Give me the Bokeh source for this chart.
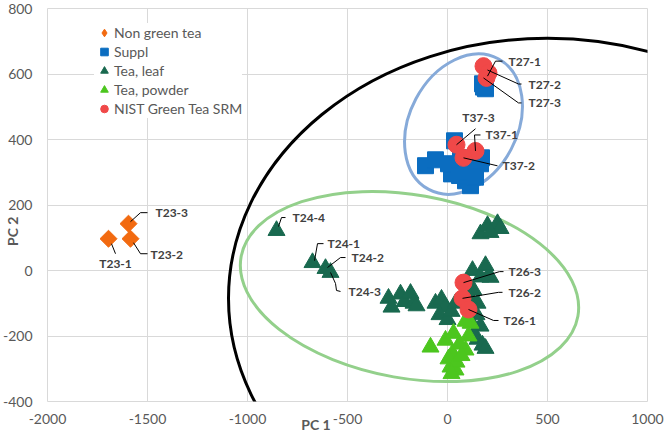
import numpy as np
from bokeh.plotting import figure
from bokeh.models import (ColumnDataSource, FixedTicker, Legend, LegendItem, Range1d)
from bokeh.core.properties import value
from bokeh.embed import file_html
from bokeh.resources import INLINE

# ---------------- data ----------------
nongreen_x = [-1695, -1585, -1595]
nongreen_y = [97, 97, 143]
nongreen_names = ["T23-1", "T23-2", "T23-3"]

suppl_x = [175, 190, 180, -110, -60, 35, 40, 90, 115, 165, 170, 115, 20, 65, 130, 5, 60, 100, 140]
suppl_y = [570, 555, 560, 320, 338, 396, 310, 274, 259, 326, 344, 335, 295, 344, 304, 326, 290, 300, 285]

leaf_x = [-855, -675, -610, -585,
          -295, -280, -235, -215, -185, -170, -155,
          -60, -30, -10, -40, 0, 20, 40,
          125, 165, 215, 205, 190,
          100, 130, 110, 150, 145, 165, 150, 175, 130, 120, 190,
          165, 200, 250, 265, 215]
leaf_y = [122, 24, 6, -6,
          -85, -112, -72, -95, -70, -100, -108,
          -100, -88, -112, -135, -150, -125, -100,
          0, -20, -21, -15, 15,
          -40, -60, -80, -100, -135, -170, -210, -228, -195, -160, -238,
          112, 137, 143, 128, 116]
leaf_names = ["T24-4", "T24-1", "T24-2", "T24-3"]

powder_x = [-85, -10, 30, 25, 90, 15, 40, 115, 90, 60, 5, 45, 70, 20, 105]
powder_y = [-234, -213, -192, -253, -243, -295, -304, -161, -155, -225, -270, -280, -260, -315, -200]

nist_x = [180, 205, 195, 45, 140, 80, 80, 75, 105]
nist_y = [624, 603, 588, 384, 365, 344, -37, -85, -119]
nist_names = ["T27-1", "T27-2", "T27-3", "T37-3", "T37-1", "T37-2", "T26-3", "T26-2", "T26-1"]

series_names = ["Non green tea", "Suppl", "Tea, leaf", "Tea, powder", "NIST Green Tea SRM"]
x_ticks = [-2000, -1500, -1000, -500, 0, 500, 1000]
y_ticks = [-400, -200, 0, 200, 400, 600, 800]
x_title = "PC 1"
y_title = "PC 2"

# ---------------- layout / styles ----------------
FW, FH = 600, 393
XR, YR = (-2000, 1000), (-400, 800)
SX = (XR[1] - XR[0]) / FW   # data per px
SY = (YR[1] - YR[0]) / FH

FONT = "Lato"
GRID = "#d9d9d9"
TXT = "#595959"
C_ORANGE = "#F26A10"
C_BLUE = "#0B6DC0"
C_DGREEN = "#19694F"
C_LGREEN = "#4CC61E"
C_RED = "#F04848"
EM = "\u2003"

p = figure(frame_width=FW, frame_height=FH,
           x_range=Range1d(*XR), y_range=Range1d(*YR),
           output_backend="svg", toolbar_location=None,
           min_border_left=47, min_border_right=17, min_border_top=8, min_border_bottom=33)
p.outline_line_color = GRID
p.background_fill_color = "white"
p.border_fill_color = "white"

p.xaxis.ticker = FixedTicker(ticks=x_ticks)
p.yaxis.ticker = FixedTicker(ticks=y_ticks)
p.xaxis.major_label_overrides = {t: str(t) for t in x_ticks}
p.yaxis.major_label_overrides = {t: str(t) for t in y_ticks}
for ax in (p.xaxis, p.yaxis):
    ax.axis_line_color = None
    ax.major_tick_line_color = None
    ax.minor_tick_line_color = None
    ax.major_label_text_font = FONT
    ax.major_label_text_font_size = "14px"
    ax.major_label_text_color = TXT
    ax.axis_label_text_font = FONT
    ax.axis_label_text_font_style = "bold"
    ax.axis_label_text_font_size = "14px"
    ax.axis_label_text_color = TXT
p.xaxis.major_label_standoff = 6
p.yaxis.major_label_standoff = 9
# axis titles placed off-centre as in the reference (padding with em spaces)
p.xaxis.axis_label = x_title + EM * 6
p.xaxis.axis_label_standoff = -11
p.yaxis.axis_label = y_title + EM * 5
p.yaxis.axis_label_standoff = -21
p.xgrid.grid_line_color = GRID
p.ygrid.grid_line_color = GRID

# ellipses (drawn as shapes, screen-rotated)
p.ellipse(x=[500], y=[-85], width=[3190], height=[1588], angle=0,
          fill_alpha=0, line_color="black", line_width=3)
p.ellipse(x=[-190], y=[-49], width=[1710], height=[560], angle=np.deg2rad(-10),
          fill_alpha=0, line_color="#93D08B", line_width=3)
p.ellipse(x=[80], y=[447], width=[740], height=[329], angle=np.deg2rad(62),
          fill_alpha=0, line_color="#86AAD9", line_width=3)

r1 = p.scatter(nongreen_x, nongreen_y, marker="square", size=12, angle=np.pi / 4,
               fill_color=C_ORANGE, line_color=C_ORANGE)
r2 = p.scatter(suppl_x, suppl_y, marker="square", size=16,
               fill_color=C_BLUE, line_color=C_BLUE)
r3 = p.scatter(leaf_x, leaf_y, marker="triangle", size=17,
               fill_color=C_DGREEN, line_color=C_DGREEN)
r4 = p.scatter(powder_x, powder_y, marker="triangle", size=17,
               fill_color=C_LGREEN, line_color=C_LGREEN)
r5 = p.scatter(nist_x, nist_y, marker="circle", size=17,
               fill_color=C_RED, line_color=C_RED)
# legend swatch for the diamond series (a point that is never drawn on the plot)
r1_leg = p.scatter(x=[np.nan], y=[np.nan], marker="diamond", size=12,
                   fill_color=C_ORANGE, line_color=C_ORANGE)

# data labels with leader lines: offsets in screen px (y down)
leaders = {
    "T23-1": ([(3, 5), (7, 15)], (7, 25), "center"),
    "T23-2": ([(3, 4), (10, 15), (17, 15)], (20, 16), "left"),
    "T23-3": ([(2, -2), (12, -11), (19, -11)], (27, -11), "left"),
    "T24-4": ([(2, -4), (5, -13), (9, -13)], (16, -13), "left"),
    "T24-1": ([(2, -2), (5, -19), (11, -19)], (15, -19), "left"),
    "T24-2": ([(2, -1), (15, -11), (20, -11)], (26, -11), "left"),
    "T24-3": ([(0, 0), (5, 11), (6, 18), (10, 19)], (18, 19), "left"),
    "T26-3": ([(0, 0), (36, -11), (40, -11)], (45, -11), "left"),
    "T26-2": ([(0, 0), (36, -6), (40, -6)], (46, -6), "left"),
    "T26-1": ([(0, 0), (25, 11), (30, 11)], (35, 11), "left"),
    "T27-1": ([(4, 10), (12, -5), (19, -5)], (25, -5), "left"),
    "T27-2": ([(-1, -3), (30, 11), (33, 11)], (40, 11), "left"),
    "T27-3": ([(-3, 0), (32, 25), (35, 25)], (42, 25), "left"),
    "T37-3": ([(0, 0), (19, -16)], (22, -27), "center"),
    "T37-1": ([(0, 0), (-1, -16), (5, -16)], (10, -16), "left"),
    "T37-2": ([(0, 0), (34, 8)], (39, 8), "left"),
}

named = {}
for xs, ys, names in ((nongreen_x, nongreen_y, nongreen_names),
                      (leaf_x, leaf_y, leaf_names),
                      (nist_x, nist_y, nist_names)):
    for i, n in enumerate(names):
        named[n] = (xs[i], ys[i])

lx, ly, tx, ty, tt, ta = [], [], [], [], [], []
for n, (poly, (ox, oy), align) in leaders.items():
    px, py = named[n]
    lx.append([px + a * SX for a, b in poly])
    ly.append([py - b * SY for a, b in poly])
    tx.append(px + ox * SX)
    ty.append(py - oy * SY)
    tt.append(n)
    ta.append(align)

p.multi_line(lx, ly, line_color="black", line_width=1)
lsrc = ColumnDataSource(dict(x=tx, y=ty, text=tt, align=ta))
p.text("x", "y", text="text", source=lsrc, text_align="align", text_baseline="middle",
       text_font=value(FONT), text_font_style="bold", text_font_size="12px", text_color="#404040")

legend = Legend(items=[LegendItem(label=s, renderers=[r]) for s, r in
                       zip(series_names, [r1_leg, r2, r3, r4, r5])],
                location=(47, FH - 11 - 99))
legend.label_text_font = FONT
legend.label_text_font_size = "14px"
legend.label_text_color = TXT
legend.glyph_width = 20
legend.glyph_height = 19
legend.label_height = 19
legend.spacing = 0
legend.padding = 2
legend.label_standoff = 0
legend.border_line_color = None
legend.background_fill_alpha = 1
p.add_layout(legend)

open("out.html", "w").write(file_html(p, INLINE))
